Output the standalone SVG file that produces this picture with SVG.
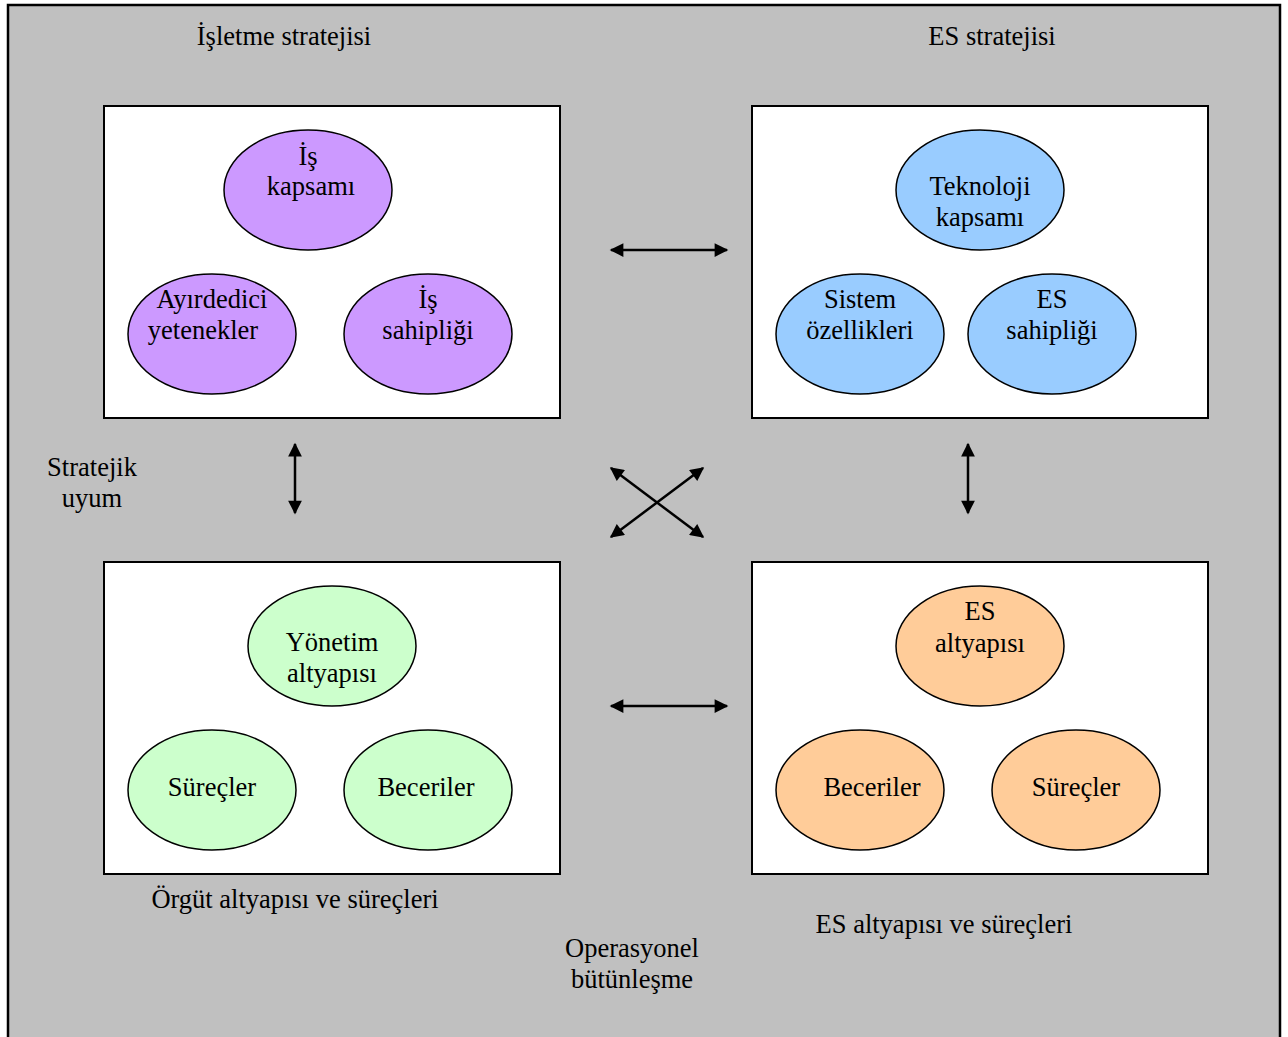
<svg xmlns="http://www.w3.org/2000/svg" width="1288" height="1037" viewBox="0 0 1288 1037">
<style>
text{font-family:"Liberation Serif","Times New Roman",serif;font-size:26.5px;fill:#000;text-anchor:middle}
.box{fill:#fff;stroke:#000;stroke-width:2}
.el{stroke:#000;stroke-width:1.5}
.p{fill:#CC99FF}.b{fill:#99CCFF}.g{fill:#CCFFCC}.o{fill:#FFCC99}
.ar{stroke:#000;stroke-width:2.5;fill:none;marker-start:url(#ah);marker-end:url(#ah)}
</style>
<defs>
<marker id="ah" viewBox="0 0 10 10" refX="9" refY="5" markerWidth="6" markerHeight="5.5" orient="auto-start-reverse" markerUnits="strokeWidth">
<path d="M0,0 L10,5 L0,10 z" fill="#000"/>
</marker>
</defs>
<rect x="8" y="5" width="1272" height="1040" fill="#C0C0C0" stroke="#000" stroke-width="2.5"/>
<text x="284" y="45">İşletme stratejisi</text>
<text x="992" y="45">ES stratejisi</text>
<text x="92" y="476">Stratejik</text>
<text x="92" y="507">uyum</text>
<text x="295" y="908">Örgüt altyapısı ve süreçleri</text>
<text x="944" y="933">ES altyapısı ve süreçleri</text>
<text x="632" y="957">Operasyonel</text>
<text x="632" y="988">bütünleşme</text>

<g id="box-isletme">
<rect class="box" x="104" y="106" width="456" height="312"/>
<g id="n-is-kapsami"><ellipse class="el p" cx="308" cy="190" rx="84" ry="60"/><text x="308" y="165">İş</text><text x="311" y="195">kapsamı</text></g>
<g id="n-ayirdedici"><ellipse class="el p" cx="212" cy="334" rx="84" ry="60"/><text x="212" y="308">Ayırdedici</text><text x="203" y="339">yetenekler</text></g>
<g id="n-is-sahipligi"><ellipse class="el p" cx="428" cy="334" rx="84" ry="60"/><text x="428" y="308">İş</text><text x="428" y="339">sahipliği</text></g>
</g>

<g id="box-es">
<rect class="box" x="752" y="106" width="456" height="312"/>
<g id="n-teknoloji"><ellipse class="el b" cx="980" cy="190" rx="84" ry="60"/><text x="980" y="195">Teknoloji</text><text x="980" y="226">kapsamı</text></g>
<g id="n-sistem"><ellipse class="el b" cx="860" cy="334" rx="84" ry="60"/><text x="860" y="308">Sistem</text><text x="860" y="339">özellikleri</text></g>
<g id="n-es-sahipligi"><ellipse class="el b" cx="1052" cy="334" rx="84" ry="60"/><text x="1052" y="308">ES</text><text x="1052" y="339">sahipliği</text></g>
</g>

<g id="box-orgut">
<rect class="box" x="104" y="562" width="456" height="312"/>
<g id="n-yonetim"><ellipse class="el g" cx="332" cy="646" rx="84" ry="60"/><text x="332" y="651">Yönetim</text><text x="332" y="682">altyapısı</text></g>
<g id="n-surecler1"><ellipse class="el g" cx="212" cy="790" rx="84" ry="60"/><text x="212" y="796">Süreçler</text></g>
<g id="n-beceriler1"><ellipse class="el g" cx="428" cy="790" rx="84" ry="60"/><text x="426" y="796">Beceriler</text></g>
</g>

<g id="box-es-altyapi">
<rect class="box" x="752" y="562" width="456" height="312"/>
<g id="n-es-altyapisi"><ellipse class="el o" cx="980" cy="646" rx="84" ry="60"/><text x="980" y="620">ES</text><text x="980" y="652">altyapısı</text></g>
<g id="n-beceriler2"><ellipse class="el o" cx="860" cy="790" rx="84" ry="60"/><text x="872" y="796">Beceriler</text></g>
<g id="n-surecler2"><ellipse class="el o" cx="1076" cy="790" rx="84" ry="60"/><text x="1076" y="796">Süreçler</text></g>
</g>

<g id="connectors">
<line class="ar" x1="611" y1="250" x2="727" y2="250"/>
<line class="ar" x1="611" y1="706" x2="727" y2="706"/>
<line class="ar" x1="295" y1="444" x2="295" y2="513"/>
<line class="ar" x1="968" y1="444" x2="968" y2="513"/>
<line class="ar" x1="611" y1="468" x2="703" y2="537"/>
<line class="ar" x1="703" y1="468" x2="611" y2="537"/>
</g>
</svg>
